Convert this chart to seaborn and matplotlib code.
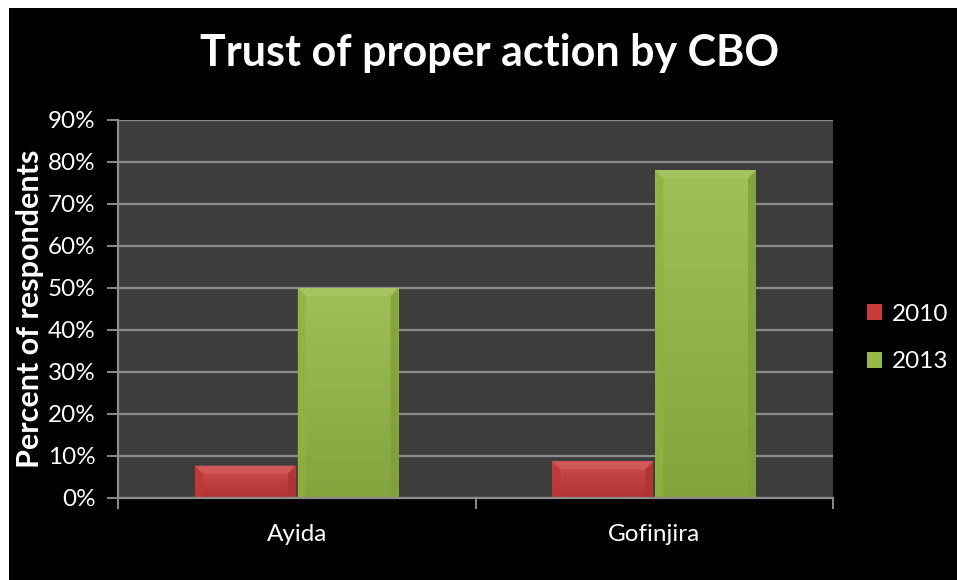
import numpy as np
import pandas as pd
import matplotlib
matplotlib.use("Agg")
import matplotlib.pyplot as plt
import matplotlib.colors as mcolors
from matplotlib.patches import Rectangle, Polygon
from matplotlib.ticker import FuncFormatter, FixedLocator
import seaborn as sns

# --- data -------------------------------------------------------------
sites = ["Ayida", "Gofinjira"]
years = ["2010", "2013"]
pct_2010 = [7.7, 8.7]
pct_2013 = [50.0, 78.0]
y_ticks = [0, 10, 20, 30, 40, 50, 60, 70, 80, 90]

title = "Trust of proper action by CBO"
y_label = "Percent of respondents"

df = pd.DataFrame({
    "site": sites * 2,
    "year": [years[0]] * len(sites) + [years[1]] * len(sites),
    "pct": pct_2010 + pct_2013,
})

palette = {"2010": "#c93a3a", "2013": "#95b944"}

sns.set_theme(style="dark")
plt.rcParams["font.family"] = ["Lato", "DejaVu Sans"]

fig = plt.figure(figsize=(9.57, 5.80), dpi=100, facecolor="white")
# black slide-style backdrop with a thin white margin on top and left
fig.patches.append(Rectangle((9 / 957, 0), 948 / 957, 572 / 580,
                             transform=fig.transFigure, facecolor="black",
                             edgecolor="none", zorder=-10))

ax = fig.add_axes([118 / 957, 82 / 580, 715 / 957, 378 / 580])
ax.set_facecolor("#3d3d3d")

sns.barplot(data=df, x="site", y="pct", hue="year", order=sites,
            hue_order=years, palette=palette, saturation=1,
            width=0.575, gap=0.02, ax=ax, legend=False, zorder=3,
            linewidth=0, edgecolor="none")

ax.set_ylim(0, 90)
ax.set_xlim(-0.5, len(sites) - 0.5)
ax.yaxis.set_major_locator(FixedLocator(y_ticks))
ax.yaxis.set_major_formatter(FuncFormatter(lambda v, _: f"{v:.0f}%"))
ax.grid(axis="y", color="#8c8c8c", linewidth=1.6, zorder=0)
ax.grid(axis="x", visible=False)
ax.set_axisbelow(True)

# category separators as major ticks, names on minor ticks
ax.set_xticks(np.arange(len(sites) + 1) - 0.5)
ax.set_xticklabels([])
ax.set_xticks(np.arange(len(sites)), minor=True)
ax.set_xticklabels(sites, minor=True)
ax.tick_params(axis="x", which="major", length=8, width=1.4, color="#8c8c8c",
               direction="out", bottom=True)
ax.tick_params(axis="x", which="minor", length=0, pad=19, labelsize=17.5,
               labelcolor="white")
ax.tick_params(axis="y", length=8, width=1.4, color="#8c8c8c", left=True,
               direction="out", labelsize=17.5, labelcolor="white", pad=8)

for side in ("top", "right"):
    ax.spines[side].set_visible(False)
for side in ("left", "bottom"):
    ax.spines[side].set_visible(True)
    ax.spines[side].set_color("#8c8c8c")
    ax.spines[side].set_linewidth(1.6)
    ax.spines[side].set_zorder(5)

ax.set_xlabel("")
ax.set_ylabel(y_label, color="white", fontsize=22, fontweight="bold")
ax.yaxis.set_label_coords(-0.104, 0.5)


def shade(color, f):
    r, g, b = mcolors.to_rgb(color)
    if f >= 0:
        return (r + (1 - r) * f, g + (1 - g) * f, b + (1 - b) * f)
    return (r * (1 + f), g * (1 + f), b * (1 + f))


# gradient fill and bevelled edges for each bar
px = ax.transData.inverted()
for patch in list(ax.patches):
    base = patch.get_facecolor()
    x0, y0 = patch.get_x(), patch.get_y()
    w, h = patch.get_width(), patch.get_height()
    grad = np.linspace(0, 1, 64)[:, None]
    cmap = mcolors.LinearSegmentedColormap.from_list(
        "g", [shade(base, -0.12), shade(base, 0.10)])
    im = ax.imshow(grad, cmap=cmap, aspect="auto", origin="lower",
                   extent=(x0, x0 + w, y0, y0 + h), zorder=3.5)
    im.set_clip_path(patch)
    # bevel sizes in data units (8 px)
    bx = abs(px.transform((8, 0))[0] - px.transform((0, 0))[0])
    by = abs(px.transform((0, 8))[1] - px.transform((0, 0))[1])
    by = min(by, h / 3)
    top = Polygon([(x0, y0 + h), (x0 + w, y0 + h), (x0 + w - bx, y0 + h - by),
                   (x0 + bx, y0 + h - by)], closed=True,
                  facecolor=shade(base, 0.15), edgecolor="none", zorder=4)
    left = Polygon([(x0, y0), (x0, y0 + h), (x0 + bx, y0 + h - by),
                    (x0 + bx, y0)], closed=True,
                   facecolor=shade(base, -0.04), edgecolor="none", zorder=4,
                   alpha=0.8)
    right = Polygon([(x0 + w, y0), (x0 + w, y0 + h),
                     (x0 + w - bx, y0 + h - by), (x0 + w - bx, y0)],
                    closed=True, facecolor=shade(base, -0.14),
                    edgecolor="none", zorder=4, alpha=0.8)
    for p in (top, left, right):
        ax.add_patch(p)
ax.set_xlim(-0.5, len(sites) - 0.5)
ax.set_ylim(0, 90)

fig.text(0.512, 1 - 53 / 580, title, color="white", fontsize=31,
         fontweight="bold", ha="center", va="center")

handles = [Rectangle((0, 0), 1, 1, facecolor=palette[y], edgecolor="none")
           for y in years]
leg = fig.legend(handles, years, loc="center left",
                 bbox_to_anchor=(867 / 957, 1 - 338 / 580), frameon=False,
                 fontsize=17.5, handlelength=0.62, handleheight=0.62,
                 handletextpad=0.4, labelspacing=1.1, borderpad=0,
                 borderaxespad=0)
for t in leg.get_texts():
    t.set_color("white")

fig.savefig("out.png", dpi=100, facecolor=fig.get_facecolor())
